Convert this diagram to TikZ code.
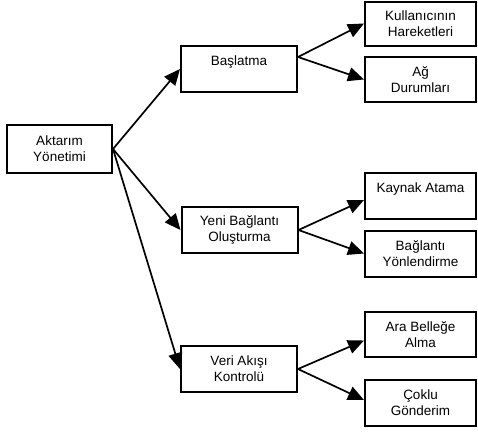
\documentclass[tikz,border=0pt]{standalone}
\usepackage{fontspec}
\setmainfont{Liberation Sans}
\usepackage{tikz}
\usetikzlibrary{arrows.meta,calc}

\begin{document}
\begin{tikzpicture}[x=1pt, y=-1pt,
  box/.style={draw=black, line width=2pt, fill=white, inner sep=0pt,
              minimum width=111pt, minimum height=46pt,
              font=\fontsize{13.5}{16}\selectfont, align=center},
  mid/.style={box, minimum width=116pt},
  arr/.style={-{Triangle[length=16pt,width=14pt]}, line width=1.7pt, black}]
  \useasboundingbox (0,0) rectangle (478,432);
  \node[box, minimum width=105pt, minimum height=48pt] (akt) at (59.5,149) {Aktarım\\Yönetimi};
  \node[mid] (bas) at (239,69) {Başlatma\\\mbox{}};
  \node[mid] (yeni) at (239.5,230) {Yeni Bağlantı\\Oluşturma};
  \node[mid] (veri) at (239,369) {Veri Akışı\\Kontrolü};
  \node[box, minimum height=44pt] (kul) at (420.5,23.5) {Kullanıcının\\Hareketleri};
  \node[box, minimum height=45pt] (ag) at (420.5,79.5) {Ağ\\Durumları};
  \node[box] (kay) at (420.5,196) {Kaynak Atama\\\mbox{}};
  \node[box] (bag) at (420.5,253.5) {Bağlantı\\Yönlendirme};
  \node[box, minimum height=45pt] (ara) at (420.5,334.5) {Ara Belleğe\\Alma};
  \node[box] (cok) at (420.5,403) {Çoklu\\Gönderim};
  \draw[arr] (akt.east) -- (bas.west);
  \draw[arr] (akt.east) -- (yeni.west);
  \draw[arr] (akt.east) -- (veri.west);
  \draw[arr] ([yshift=12pt]bas.east) -- (kul.west);
  \draw[arr] ([yshift=12pt]bas.east) -- (ag.west);
  \draw[arr] (yeni.east) -- ([yshift=-4pt]kay.west);
  \draw[arr] (yeni.east) -- (bag.west);
  \draw[arr] (veri.east) -- ([yshift=-6pt]ara.west);
  \draw[arr] (veri.east) -- ([yshift=3pt]cok.west);
\end{tikzpicture}
\end{document}
